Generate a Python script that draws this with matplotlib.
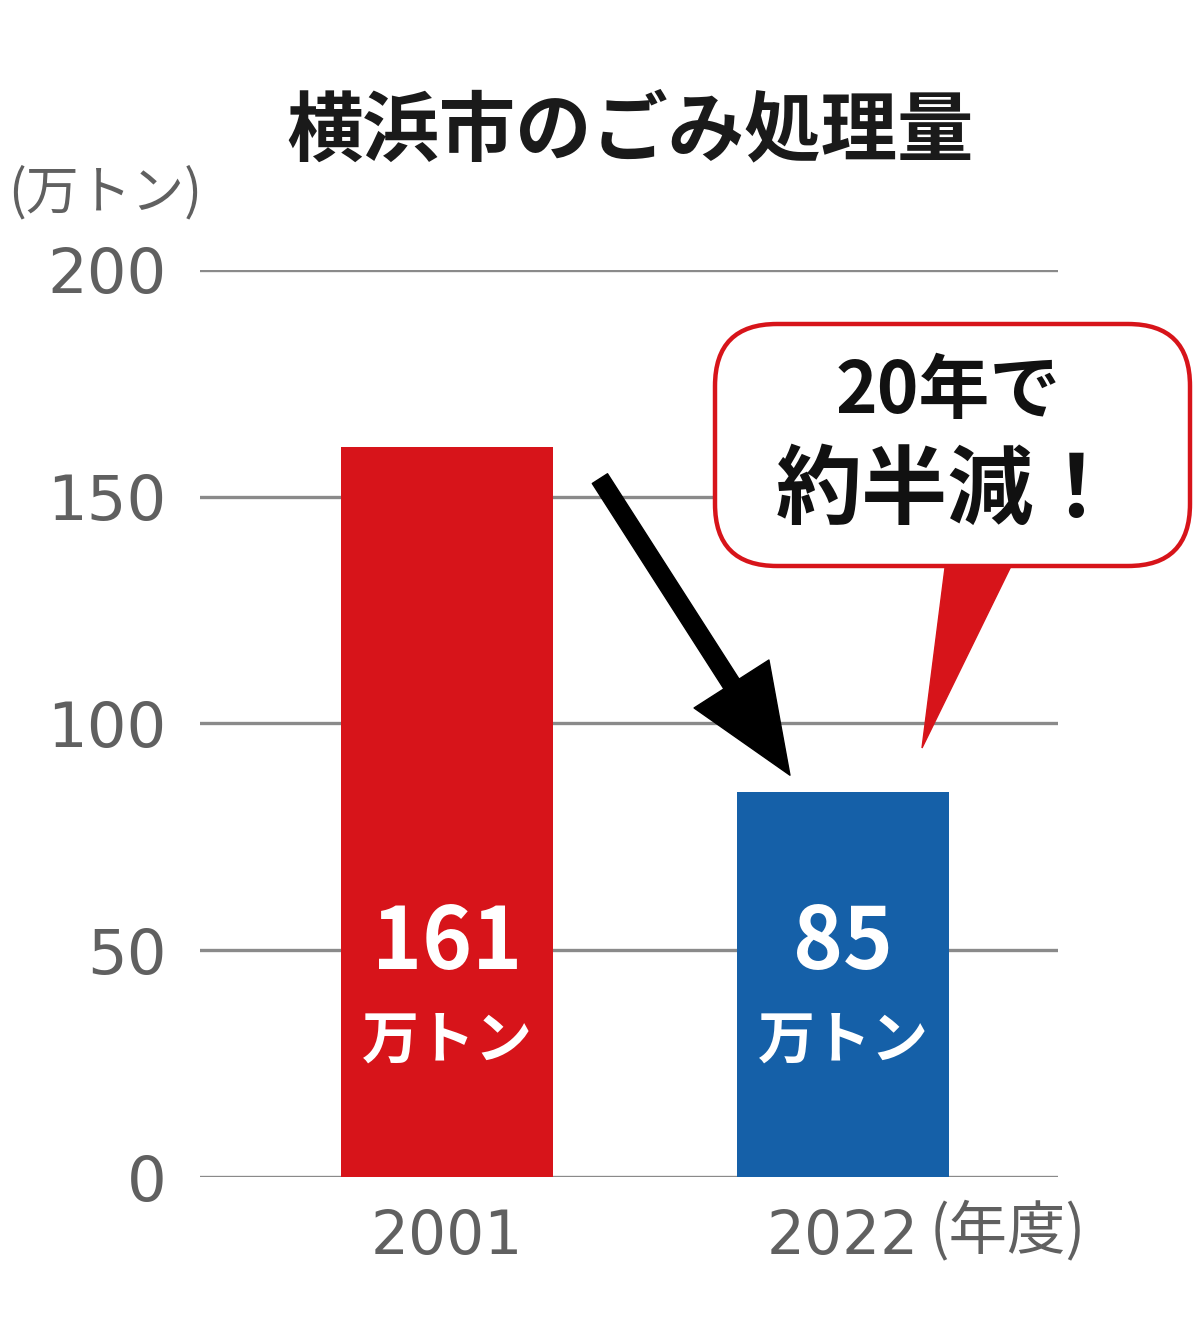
import matplotlib
matplotlib.use("Agg")
import matplotlib.pyplot as plt
from matplotlib.patches import FancyBboxPatch, Polygon, FancyArrowPatch

plt.rcParams['font.family'] = ['Noto Sans CJK JP', 'DejaVu Sans']

# Data
years = ["2001", "2022"]
amounts = [161, 85]            # 万トン
bar_colors = ["#d7141a", "#1560a8"]
yticks = [0, 50, 100, 150, 200]
title = "横浜市のごみ処理量"
unit_label = "(万トン)"
year_unit = "(年度)"
callout_lines = ["20年で", "約半減！"]

fig = plt.figure(figsize=(12, 13.34), dpi=100)
ax = fig.add_axes([200/1200, 1 - 1177/1334, 858/1200, (1177 - 270)/1334])

x = list(range(len(years)))
ax.bar(x, amounts, width=0.535, color=bar_colors, zorder=3)
ax.set_xlim(-0.624, 1.543)
ax.set_ylim(0, 200)

num_font = ['DejaVu Sans', 'Noto Sans CJK JP']
ax.set_yticks(yticks)
ax.set_yticklabels([str(v) for v in yticks], family=num_font)
ax.set_xticks(x)
ax.set_xticklabels(years, family=num_font)
ax.tick_params(axis='y', length=0, pad=24, labelsize=45, labelcolor="#606060")
ax.tick_params(axis='x', length=0, pad=22, labelsize=43, labelcolor="#606060")
ax.grid(axis='y', color="#8a8a8a", linewidth=2.4, zorder=1)
for s in ax.spines.values():
    s.set_visible(False)

# Value labels inside the bars
for xi, v in zip(x, amounts):
    ax.text(xi, 51.5, f"{v}", ha='center', va='center', color='white',
            fontsize=61, fontweight='bold', zorder=5)
    ax.text(xi, 30, "万トン", ha='center', va='center', color='white',
            fontsize=41, fontweight='bold', zorder=5)

# Decreasing arrow between the bars
arrow = FancyArrowPatch((0.386, 154), (0.866, 88.6),
                        arrowstyle="simple,head_length=78,head_width=64,tail_width=13",
                        mutation_scale=1, color='black', shrinkA=0, shrinkB=0, zorder=6)
ax.add_patch(arrow)

# Titles and unit labels
fig.text(0.525, 1 - 132/1334, title, ha='center', va='center',
         fontsize=55, fontweight='bold', color='#1a1a1a')
fig.text(8/1200, 1 - 193/1334, unit_label, ha='left', va='center',
         fontsize=38, color='#606060')
fig.text(930/1200, 1 - 1232/1334, year_unit, ha='left', va='center',
         fontsize=42, color='#606060')

# Speech bubble overlay in pixel space
deco = fig.add_axes([0, 0, 1, 1], zorder=10)
deco.set_xlim(0, 1200)
deco.set_ylim(1334, 0)
deco.axis('off')
deco.patch.set_alpha(0)

tail = Polygon([(946, 560), (1014, 560), (922, 748)], closed=True,
               facecolor="#d7141a", edgecolor="#d7141a", linewidth=1)
deco.add_patch(tail)
box = FancyBboxPatch((715, 324), 475, 242, boxstyle="round,pad=0,rounding_size=62",
                     facecolor='white', edgecolor="#d7141a", linewidth=3.2)
deco.add_patch(box)
deco.text(948, 392, callout_lines[0], ha='center', va='center',
          fontsize=51, fontweight='bold', color='#111111')
deco.text(948, 492, callout_lines[1], ha='center', va='center',
          fontsize=62, fontweight='bold', color='#111111')

fig.savefig("out.png", dpi=100)
